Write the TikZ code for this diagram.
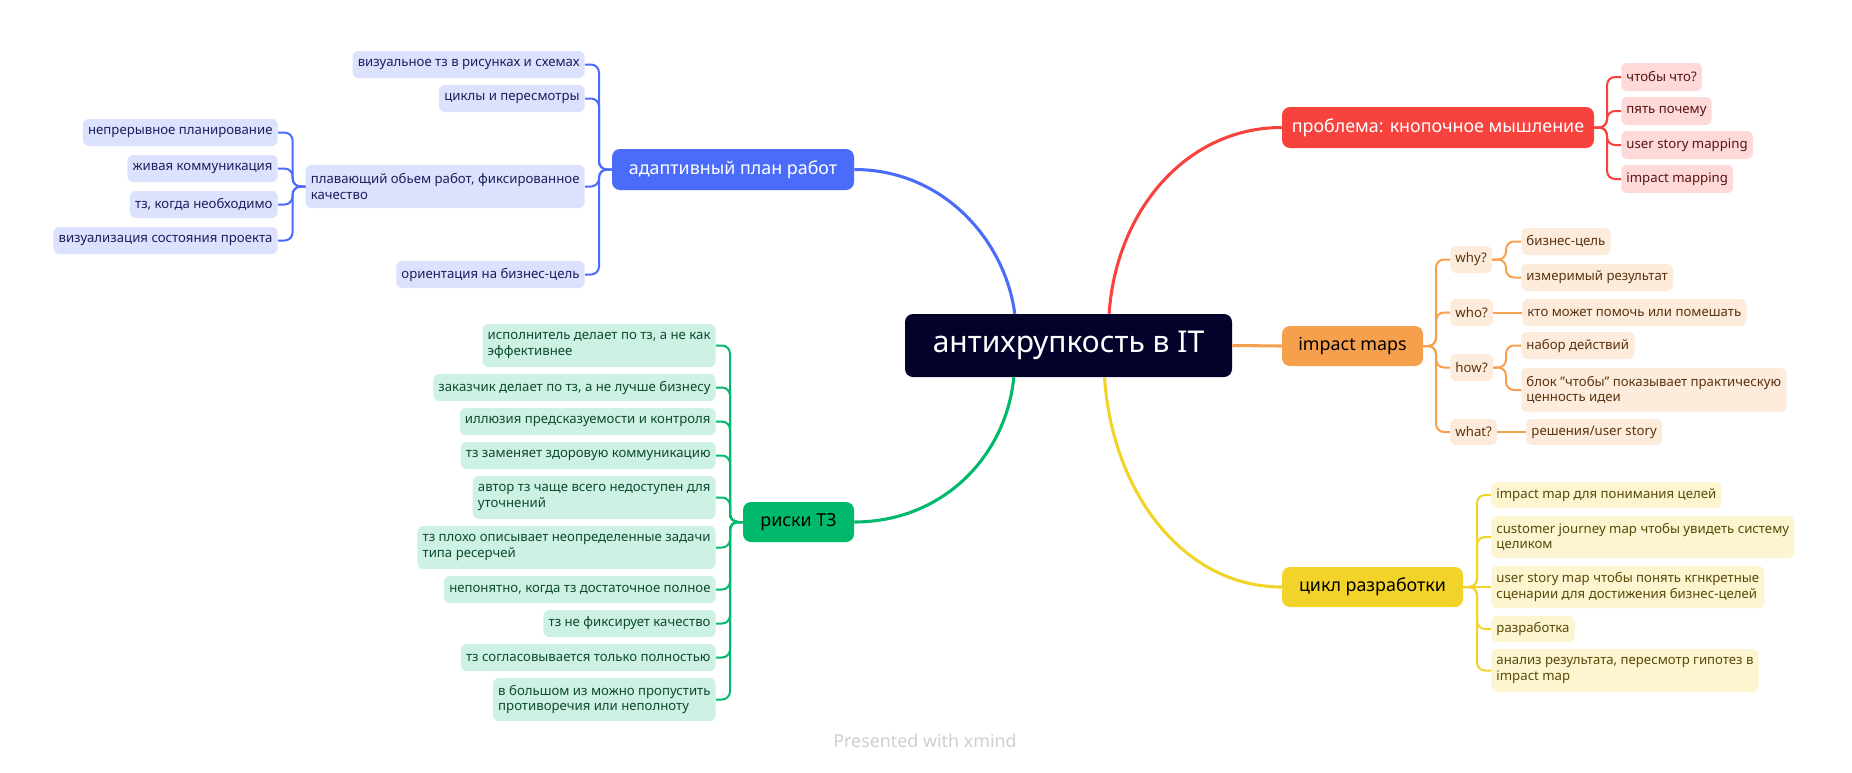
\documentclass[tikz,border=0pt]{standalone}
\usepackage{fontspec}
\setmainfont{Noto Sans}
\usetikzlibrary{calc}
\definecolor{rootc}{HTML}{02022B}
\definecolor{bluec}{HTML}{4B6BFA}
\definecolor{bluebg}{HTML}{DCE2FD}
\definecolor{bluetx}{HTML}{1B1F5E}
\definecolor{greenc}{HTML}{00B96B}
\definecolor{greenbg}{HTML}{CDF1E2}
\definecolor{greentx}{HTML}{0E4B33}
\definecolor{redc}{HTML}{F7423D}
\definecolor{redbg}{HTML}{FDD9D8}
\definecolor{redtx}{HTML}{5A1413}
\definecolor{orangec}{HTML}{F6A04D}
\definecolor{orangebg}{HTML}{FDEBDB}
\definecolor{orangetx}{HTML}{5A3410}
\definecolor{yellowc}{HTML}{F2D329}
\definecolor{yellowbg}{HTML}{FCF5CF}
\definecolor{yellowtx}{HTML}{574A0A}
\definecolor{footc}{HTML}{CFCFCF}
\newcommand\fsubx{\fontsize{9.9pt}{11.6pt}\selectfont}
\newcommand\fmainx{\fontsize{13.4pt}{16pt}\selectfont}
\newcommand\frootx{\fontsize{22.5pt}{26pt}\selectfont}
% left-side node: right edge x, top y, bottom y
\newcommand\bxL[6]{\node[#1, anchor=east, minimum height={(#5-#4)*0.75pt}] (#2) at (#3,{(#4+#5)/2}) {#6};}
% right-side node: left edge x, top y, bottom y
\newcommand\bxR[6]{\node[#1, anchor=west, minimum height={(#5-#4)*0.75pt}] (#2) at (#3,{(#4+#5)/2}) {#6};}
% main node: x1 y1 x2 y2
\newcommand\bxM[7]{\node[#1, minimum width={(#5-#3)*0.75pt}, minimum height={(#6-#4)*0.75pt}] (#2) at ({(#3+#5)/2},{(#4+#6)/2}) {#7};}
% branch connector: style, parent anchor, trunk coordinate, child anchor
\newcommand\br[4]{\draw[#1] (#2) -- (#3) -- (#3 |- #4) -- (#4);}
\begin{document}
\begin{tikzpicture}[x=0.75pt,y=-0.75pt,
  sub/.style={rounded corners=4.5pt, inner xsep=3.9pt, inner ysep=0pt, align=left, font=\fsubx},
  bsub/.style={sub, fill=bluebg, text=bluetx},
  gsub/.style={sub, fill=greenbg, text=greentx},
  rsub/.style={sub, fill=redbg, text=redtx},
  osub/.style={sub, fill=orangebg, text=orangetx},
  ysub/.style={sub, fill=yellowbg, text=yellowtx},
  mainb/.style={rounded corners=6pt, inner sep=0pt, align=center, font=\fmainx},
  conn/.style={line width=1.5pt, rounded corners=6pt},
  bigconn/.style={line width=2.3pt}]
\useasboundingbox[fill=white] (0,0) rectangle (1852,772);

% root and main branches
\bxM{mainb, fill=rootc, text=white, font=\frootx}{root}{905}{314}{1232}{377}{антихрупкость в IT}
\bxM{mainb, fill=bluec, text=white}{bm}{612}{149}{854}{190}{адаптивный план работ}
\bxM{mainb, fill=greenc, text=black}{gm}{743}{502}{854}{542}{риски ТЗ}
\bxM{mainb, fill=redc, text=white}{rm}{1282}{107}{1594}{148}{проблема: кнопочное мышление}
\bxM{mainb, fill=orangec, text=black}{om}{1282}{326}{1423}{366}{impact maps}
\bxM{mainb, fill=yellowc, text=black}{ym}{1282}{567}{1463}{607}{цикл разработки}

% blue subtree
\bxL{bsub}{b1}{585}{51}{78}{визуальное тз в рисунках и схемах}
\bxL{bsub}{b2}{585}{85}{112}{циклы и пересмотры}
\bxL{bsub}{b3}{585}{165}{208}{плавающий обьем работ, фиксированное\\качество}
\bxL{bsub}{b4}{585}{261}{288}{ориентация на бизнес-цель}
\bxL{bsub}{b31}{278}{119}{146}{непрерывное планирование}
\bxL{bsub}{b32}{278}{155}{182}{живая коммуникация}
\bxL{bsub}{b33}{278}{191}{218}{тз, когда необходимо}
\bxL{bsub}{b34}{278}{227}{254}{визуализация состояния проекта}

% green subtree
\bxL{gsub}{g1}{716}{324}{367}{исполнитель делает по тз, а не как\\эффективнее}
\bxL{gsub}{g2}{716}{374}{401}{заказчик делает по тз, а не лучше бизнесу}
\bxL{gsub}{g3}{716}{408}{435}{иллюзия предсказуемости и контроля}
\bxL{gsub}{g4}{716}{442}{469}{тз заменяет здоровую коммуникацию}
\bxL{gsub}{g5}{716}{476}{519}{автор тз чаще всего недоступен для\\уточнений}
\bxL{gsub}{g6}{716}{526}{569}{тз плохо описывает неопределенные задачи\\типа ресерчей}
\bxL{gsub}{g7}{716}{576}{603}{непонятно, когда тз достаточное полное}
\bxL{gsub}{g8}{716}{610}{637}{тз не фиксирует качество}
\bxL{gsub}{g9}{716}{644}{671}{тз согласовывается только полностью}
\bxL{gsub}{g10}{716}{678}{721}{в большом из можно пропустить\\противоречия или неполноту}

% red subtree
\bxR{rsub}{r1}{1621}{63}{91}{чтобы что?}
\bxR{rsub}{r2}{1621}{97}{125}{пять почему}
\bxR{rsub}{r3}{1621}{131}{159}{user story mapping}
\bxR{rsub}{r4}{1621}{165}{193}{impact mapping}

% orange subtree
\bxR{osub}{o1}{1450}{246}{273}{why?}
\bxR{osub}{o2}{1450}{299}{326}{who?}
\bxR{osub}{o3}{1450}{354}{381}{how?}
\bxR{osub}{o4}{1450}{419}{445}{what?}
\bxR{osub}{o11}{1521}{228}{255}{бизнес-цель}
\bxR{osub}{o12}{1521}{264}{291}{измеримый результат}
\bxR{osub}{o21}{1522}{299}{326}{кто может помочь или помешать}
\bxR{osub}{o31}{1521}{332}{359}{набор действий}
\bxR{osub}{o32}{1521}{368}{412}{блок "чтобы" показывает практическую\\ценность идеи}
\bxR{osub}{o41}{1526}{419}{445}{решения/user story}

% yellow subtree
\bxR{ysub}{ye1}{1491}{482}{508}{impact map для понимания целей}
\bxR{ysub}{ye2}{1491}{516}{558}{customer journey map чтобы увидеть систему\\целиком}
\bxR{ysub}{ye3}{1491}{566}{608}{user story map чтобы понять кгнкретные\\сценарии для достижения бизнес-целей}
\bxR{ysub}{ye4}{1491}{616}{642}{разработка}
\bxR{ysub}{ye5}{1491}{649}{692}{анализ результата, пересмотр гипотез в\\impact map}

% trunk coordinates
\coordinate (bt) at (599,169.5);
\coordinate (pt) at (292.6,186.5);
\coordinate (gt) at (730,522);
\coordinate (rt) at (1607,127.5);
\coordinate (ot) at (1436,346);
\coordinate (wt) at (1506,259.5);
\coordinate (ht) at (1506,367.5);
\coordinate (yt) at (1477,587);

% main curves
\coordinate (rootNb) at ($(root.north west)!0.336!(root.north east)$);
\coordinate (rootNr) at ($(root.north west)!0.624!(root.north east)$);
\coordinate (rootSg) at ($(root.south west)!0.333!(root.south east)$);
\coordinate (rootSy) at ($(root.south west)!0.61!(root.south east)$);
\draw[bigconn, bluec] (rootNb) .. controls (1005,240) and (943,169.5) .. (bm.east);
\draw[bigconn, redc] (rootNr) .. controls (1116,211) and (1186,127.5) .. (rm.west);
\draw[bigconn, greenc] (rootSg) .. controls (1006,457) and (942,522) .. (gm.east);
\draw[bigconn, yellowc] (rootSy) .. controls (1112,493) and (1184,587) .. (ym.west);
\draw[bigconn, orangec] (root.east) -- (om.west);

% blue connectors
\foreach \c in {b1,b2,b3,b4} {\br{conn, bluec}{bm.west}{bt}{\c.east}}
\foreach \c in {b31,b32,b33,b34} {\br{conn, bluec}{b3.west}{pt}{\c.east}}
% green connectors
\foreach \c in {g1,g2,g3,g4,g5,g6,g7,g8,g9,g10} {\br{conn, greenc}{gm.west}{gt}{\c.east}}
% red connectors
\foreach \c in {r1,r2,r3,r4} {\br{conn, redc}{rm.east}{rt}{\c.west}}
% orange connectors
\foreach \c in {o1,o2,o3,o4} {\br{conn, orangec}{om.east}{ot}{\c.west}}
\foreach \c in {o11,o12} {\br{conn, orangec}{o1.east}{wt}{\c.west}}
\foreach \c in {o31,o32} {\br{conn, orangec}{o3.east}{ht}{\c.west}}
\draw[conn, orangec] (o2.east) -- (o21.west);
\draw[conn, orangec] (o4.east) -- (o41.west);
% yellow connectors
\foreach \c in {ye1,ye2,ye4,ye5} {\br{conn, yellowc}{ym.east}{yt}{\c.west}}
\draw[conn, yellowc] (ym.east) -- (ye3.west);

% footer
\node[text=footc, font=\fontsize{13.4pt}{16pt}\selectfont] (foot) at (925,741) {Presented with \textbf{xmind}};
\end{tikzpicture}
\end{document}
